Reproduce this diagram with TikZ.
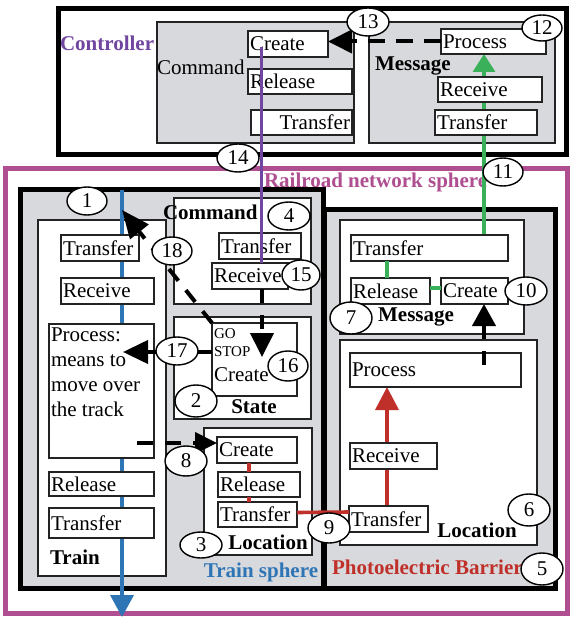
\documentclass[tikz,border=0pt]{standalone}
\usepackage{fontspec}
\setmainfont{Liberation Serif}
\usetikzlibrary{arrows.meta}

\definecolor{sphgray}{RGB}{216,217,220}
\definecolor{rrmag}{RGB}{176,78,146}
\definecolor{ctlpurple}{RGB}{112,70,160}
\definecolor{trblue}{RGB}{46,117,182}
\definecolor{msggreen}{RGB}{59,176,90}
\definecolor{pbred}{RGB}{192,48,42}
\definecolor{edge}{RGB}{35,35,35}

\tikzset{
  every node/.style={font=\fontsize{21}{24}\selectfont, inner sep=0pt, outer sep=0pt},
  frame/.style={draw=black, line width=5pt, anchor=north west},
  panel/.style={draw=edge, line width=1.6pt, anchor=north west},
  slot/.style={draw=edge, fill=white, line width=1.6pt, anchor=north west,
               inner xsep=2pt, align=left},
  tag/.style={font=\fontsize{21}{24}\selectfont\bfseries},
  num/.style={draw=black, fill=white, line width=1.4pt, ellipse shape},
  ellipse shape/.style={shape=ellipse},
  conn/.style={line width=3.6pt},
  dashconn/.style={line width=4pt, draw=black, dash pattern=on 17pt off 11pt},
  bigtip/.style={-{Triangle[length=#1, width=23pt]}},
  bigtip/.default=24pt,
}
\usetikzlibrary{shapes.geometric}

\begin{document}
\begin{tikzpicture}[x=1pt, y=-1pt]
\useasboundingbox[fill=white] (0,0) rectangle (569,617);

% ---------------- Controller ----------------
\node[frame, fill=white, minimum width=508, minimum height=146] (controller) at (58,9) {};
\node[panel, fill=sphgray, minimum width=197, minimum height=121] (ctlCommand) at (157,22) {};
\node[panel, fill=sphgray, minimum width=186, minimum height=121] (ctlMessage) at (369,22) {};
\node[tag, text=ctlpurple, anchor=west] (ctlTitle) at (60,43) {Controller};
\node[anchor=west] (ctlCmdLbl) at (157,67) {Command};
\node[tag, anchor=west] (ctlMsgLbl) at (375,66) {Message};

% ---------------- Railroad network sphere ----------------
\node[draw=rrmag, line width=5pt, anchor=north west, minimum width=562, minimum height=444] (railroad) at (5,169) {};
\node[tag, text=rrmag, anchor=west] (rrTitle) at (264,182) {Railroad network sphere};

% ---------------- Train sphere ----------------
\node[frame, fill=sphgray, minimum width=303, minimum height=398] (trainSphere) at (20,190) {};
\node[panel, fill=white, minimum width=128, minimum height=356] (train) at (38,220) {};
\node[panel, fill=white, minimum width=137, minimum height=106] (tCommand) at (174,198) {};
\node[panel, fill=white, minimum width=137, minimum height=102] (tState) at (174,317) {};
\node[panel, fill=white, minimum width=108, minimum height=127] (tLocation) at (204,428) {};

% ---------------- Photoelectric barrier ----------------
\node[frame, fill=sphgray, minimum width=231, minimum height=378] (barrier) at (324,210) {};
\node[panel, fill=white, minimum width=184, minimum height=114] (bMessage) at (340,220) {};
\node[panel, fill=white, minimum width=197, minimum height=205] (bLocation) at (340,340) {};

% ---------------- flows running behind the boxes ----------------
\coordinate (blueTop) at (122,190);
\coordinate (blueEnd) at (122,617);
\draw[conn, draw=trblue, -{Triangle[length=22pt, width=23pt]}] (blueTop) -- (blueEnd);

\coordinate (greenFoot) at (484,235);
\coordinate (greenHead) at (484,54);
\draw[conn, draw=msggreen, line width=3.4pt, -{Triangle[length=18pt, width=22pt]}] (greenFoot) -- (greenHead);

\coordinate (redFoot) at (387,506);
\coordinate (redHead) at (387,387);
\draw[conn, draw=pbred, bigtip=23pt] (redFoot) -- (redHead);

% ---------------- slots ----------------
% controller
\node[slot, minimum width=80, minimum height=26, text width=76] (cCreate) at (248,31) {Create};
\node[slot, minimum width=104, minimum height=25, text width=100] (cRelease) at (248,69) {Release};
\node[slot, minimum width=101, minimum height=25, text width=97, align=right] (cTransfer) at (251,110) {Transfer};
\node[slot, minimum width=105, minimum height=25, text width=101] (mProcess) at (441,29) {Process};
\node[slot, minimum width=104, minimum height=25, text width=100] (mReceive) at (438,77) {Receive};
\node[slot, minimum width=102, minimum height=25, text width=98] (mTransfer) at (435,110) {Transfer};

% train
\node[slot, minimum width=78, minimum height=26, text width=74] (trTransfer) at (61,235) {Transfer};
\node[slot, minimum width=93, minimum height=26, text width=89] (trReceive) at (61,278) {Receive};
\node[slot, minimum width=105, minimum height=134] (trProcess) at (49,324) {};
\node[anchor=north west, align=left, font=\fontsize{21}{25}\selectfont] (trProcessText) at (51,328)
  {Process:\\means to\\move over\\the track};
\node[slot, minimum width=105, minimum height=24, text width=101] (trRelease) at (49,472) {Release};
\node[slot, minimum width=105, minimum height=30, text width=101] (trTransferB) at (49,508) {Transfer};
\node[tag, anchor=west] (trainLbl) at (50,557) {Train};

% command (train sphere)
\node[tag, anchor=west] (tCmdLbl) at (163,212) {Command};
\node[slot, minimum width=82, minimum height=26, text width=78] (kTransfer) at (219,233) {Transfer};
\node[slot, minimum width=76, minimum height=26, text width=72] (kReceive) at (212,263) {Receive};

% state
\node[slot, minimum width=85, minimum height=73] (sCreate) at (212,323) {};
\node[anchor=west, font=\fontsize{15}{17}\selectfont] (sGo) at (214,334) {GO};
\node[anchor=west, font=\fontsize{15}{17}\selectfont] (sStop) at (214,352) {STOP};
\node[anchor=west] (sCreateTxt) at (214,375) {Create};
\node[tag] (stateLbl) at (254,407) {State};

% location (train sphere)
\node[slot, minimum width=80, minimum height=26, text width=76] (lCreate) at (217,437) {Create};
\node[slot, minimum width=82, minimum height=25, text width=78] (lRelease) at (218,472) {Release};
\node[slot, minimum width=79, minimum height=25, text width=75] (lTransfer) at (218,502) {Transfer};
\node[tag] (tLocLbl) at (268,542) {Location};
\node[tag, text=trblue] (trainSphLbl) at (261,572) {Train sphere};

% message (barrier)
\node[slot, minimum width=157, minimum height=26, text width=153] (pTransfer) at (351,235) {Transfer};
\node[slot, minimum width=79, minimum height=26, text width=75] (pRelease) at (351,278) {Release};
\node[slot, minimum width=67, minimum height=26, text width=63] (pCreate) at (441,278) {Create};
\node[tag] (bMsgLbl) at (416,317) {Message};

% location (barrier)
\node[slot, minimum width=171, minimum height=34, text width=167] (qProcess) at (350,353) {Process};
\node[slot, minimum width=87, minimum height=26, text width=83] (qReceive) at (350,443) {Receive};
\node[slot, minimum width=79, minimum height=26, text width=75] (qTransfer) at (349,506) {Transfer};
\node[tag] (bLocLbl) at (477,530) {Location};
\node[tag, text=pbred, anchor=west] (barrierLbl) at (332,567) {Photoelectric Barrier};

% ---------------- flows between the slots ----------------
\draw[conn, draw=ctlpurple, line width=3pt] ([xshift=13pt, yshift=-3pt]cCreate.west) -- ([xshift=49pt]kReceive.north west);

\draw[conn, draw=pbred] ([xshift=32pt]lCreate.south west) -- ([xshift=31pt]lRelease.north west);
\draw[conn, draw=pbred] ([xshift=31pt]lRelease.south west) -- ([xshift=31pt]lTransfer.north west);
\draw[conn, draw=pbred] ([yshift=2pt]lTransfer.east) -- ([yshift=7pt]qTransfer.west);

\draw[conn, draw=msggreen] ([xshift=36pt]pTransfer.south west) -- ([xshift=36pt]pRelease.north west);
\draw[conn, draw=msggreen] ([yshift=3pt]pRelease.east) -- ([yshift=3pt]pCreate.west);

% ---------------- black control arrows ----------------
\draw[dashconn, bigtip=24pt] (mProcess.west) -- (mProcess.west -| cCreate.east);

\coordinate (goTip) at (262,357);
\draw[dashconn, dash pattern=on 14pt off 12pt, bigtip=24pt] ([xshift=50pt]kReceive.south west) -- (goTip);

\coordinate (moveTip) at (123,352);
\draw[conn, line width=4pt, draw=black, bigtip=25pt] (sCreate.west |- moveTip) -- (moveTip);

\coordinate (trainTip) at (122,210);
\draw[dashconn, dash pattern=on 15pt off 12pt, -{Triangle[length=28pt, width=23pt]}] (sCreate.north west) -- (trainTip);

\coordinate (leaveTail) at (137,443);
\draw[dashconn, dash pattern=on 16pt off 12pt, -{Triangle[length=22pt, width=21pt]}] (leaveTail) -- ([yshift=7pt]lCreate.west);

\coordinate (passTail) at (484,365);
\draw[dashconn, dash pattern=on 14pt off 12pt, -{Triangle[length=22pt, width=23pt]}] (passTail) -- (pCreate.south -| passTail);

% ---------------- step numbers ----------------
\foreach \n/\cx/\cy/\rx/\ry in {
   1/87/201/20/14, 2/196/401/21/16, 3/201/545/21/13, 4/289/216/21/14,
   5/542/569/21/16, 6/529/510/21/16, 7/351/318/21/16, 8/186/461/21/15,
   9/329/528/21/15, 10/526/291/21/14, 11/503/172/20/14, 12/542/28/20/13,
   13/368/22/21/14, 14/238/158/21/14, 15/301/275/19/15, 16/288/366/20/15,
   17/177/351/21/14, 18/172/251/20/14}{
  \node[num, minimum width=2*\rx, minimum height=2*\ry] (step\n) at (\cx,\cy) {\n};
}
\end{tikzpicture}
\end{document}
